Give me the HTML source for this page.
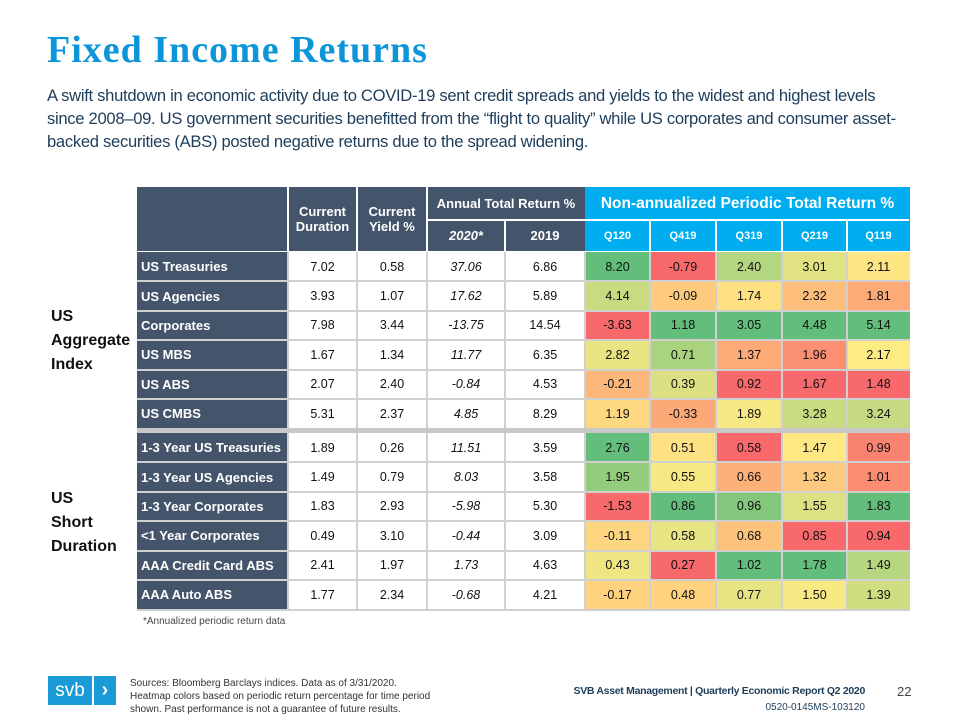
<!DOCTYPE html>
<html><head><meta charset="utf-8">
<style>
body{margin:0;width:960px;height:720px;background:#fff;position:relative;overflow:hidden;font-family:"Liberation Sans",sans-serif}
.a{position:absolute;box-sizing:border-box}
#title{left:47px;top:28px;font-family:"Liberation Serif",serif;font-weight:bold;font-size:38px;color:#0d95da;letter-spacing:1px}
#intro{left:47px;top:84px;font-size:16.6px;line-height:23px;color:#1d3d5a;letter-spacing:-0.3px;white-space:nowrap}
.c{display:flex;align-items:center;justify-content:center;text-align:center;font-size:12.5px;color:#111}
.h{background:#44546a;color:#fff;font-weight:bold;font-size:13px}
.lab{background:#44546a;color:#fff;font-weight:bold;font-size:13px;justify-content:flex-start;padding-left:4px}
.cy{background:#00aeef;color:#fff;font-weight:bold}
.grp{font-weight:bold;font-size:16px;color:#111;line-height:24px}
.ft{font-size:10px;color:#333;line-height:13px}
</style></head><body>
<div id="title" class="a">Fixed Income Returns</div>
<div id="intro" class="a">A swift shutdown in economic activity due to COVID-19 sent credit spreads and yields to the widest and highest levels<br>since 2008–09. US government securities benefitted from the “flight to quality” while US corporates and consumer asset-<br>backed securities (ABS) posted negative returns due to the spread widening.</div>
<div id="tbl" class="a" style="left:0;top:0;width:960px;height:720px"></div>
<div class="a grp" style="left:51px;top:305px">US<br>Aggregate<br>Index</div>
<div class="a grp" style="left:51px;top:487px">US<br>Short<br>Duration</div>
<div class="a" style="left:143px;top:616px;font-size:10px;color:#444">*Annualized periodic return data</div>
<div class="a" style="left:48px;top:676px;width:68px;height:29px;display:flex">
<div style="width:44px;height:29px;background:#1a9ad6;color:#fff;font-size:19px;display:flex;align-items:center;justify-content:center">svb</div>
<div style="width:2px"></div>
<div style="width:22px;height:29px;background:#1a9ad6;color:#fff;font-size:20px;font-weight:bold;display:flex;align-items:center;justify-content:center">›</div></div>
<div class="a ft" style="left:130px;top:677px">Sources: Bloomberg Barclays indices. Data as of 3/31/2020.<br>Heatmap colors based on periodic return percentage for time period<br>shown. Past performance is not a guarantee of future results.</div>
<div class="a" style="left:500px;top:685px;width:365px;text-align:right;font-size:10.5px;color:#1d3d5a;font-weight:bold;white-space:nowrap;letter-spacing:-0.3px">SVB Asset Management | Quarterly Economic Report Q2 2020</div>
<div class="a" style="left:560px;top:702px;width:305px;text-align:right;font-size:10px;color:#1d3d5a">0520-0145MS-103120</div>
<div class="a" style="left:897px;top:684px;font-size:13px;color:#444">22</div>
<script>
const rowLabels=["US Treasuries","US Agencies","Corporates","US MBS","US ABS","US CMBS","1-3 Year US Treasuries","1-3 Year US Agencies","1-3 Year Corporates","<1 Year Corporates","AAA Credit Card ABS","AAA Auto ABS"];
const duration=["7.02","3.93","7.98","1.67","2.07","5.31","1.89","1.49","1.83","0.49","2.41","1.77"];
const yieldPct=["0.58","1.07","3.44","1.34","2.40","2.37","0.26","0.79","2.93","3.10","1.97","2.34"];
const ret2020=["37.06","17.62","-13.75","11.77","-0.84","4.85","11.51","8.03","-5.98","-0.44","1.73","-0.68"];
const ret2019=["6.86","5.89","14.54","6.35","4.53","8.29","3.59","3.58","5.30","3.09","4.63","4.21"];
const quarters=["Q120","Q419","Q319","Q219","Q119"];
const q120=[8.20,4.14,-3.63,2.82,-0.21,1.19,2.76,1.95,-1.53,-0.11,0.43,-0.17];
const q419=[-0.79,-0.09,1.18,0.71,0.39,-0.33,0.51,0.55,0.86,0.58,0.27,0.48];
const q319=[2.40,1.74,3.05,1.37,0.92,1.89,0.58,0.66,0.96,0.68,1.02,0.77];
const q219=[3.01,2.32,4.48,1.96,1.67,3.28,1.47,1.32,1.55,0.85,1.78,1.50];
const q119=[2.11,1.81,5.14,2.17,1.48,3.24,0.99,1.01,1.83,0.94,1.49,1.39];
const qSeries=[q120,q419,q319,q219,q119];
const T=document.getElementById('tbl');
const colX=[137,288,357,427,505,585,650,716,782,847,910];
function rowY(i){return i<6?252+i*29.4:433+(i-6)*29.4;}
function cell(x,y,w,h,cls,txt,name){const d=document.createElement('div');d.className='a c '+cls;
d.style.cssText+=`left:${x}px;top:${y}px;width:${w}px;height:${h}px;`;d.textContent=txt;


T.appendChild(d);return d;}
function mix(a,b,t){return a.map((v,i)=>Math.round(v+(b[i]-v)*t));}
const R=[248,105,107],Y=[255,235,132],G=[99,190,123];
function median(a){const s=[...a].sort((x,y)=>x-y);const n=s.length;return n%2?s[(n-1)/2]:(s[n/2-1]+s[n/2])/2;}
function color(v,arr){const mn=Math.min(...arr),mx=Math.max(...arr),md=median(arr);let c;
if(v<=md)c=mix(R,Y,md===mn?1:(v-mn)/(md-mn));else c=mix(Y,G,(v-md)/(mx-md));return `rgb(${c})`;}
cell(137,187,151,64,'h','','header-blank');
cell(288,187,69,64,'h','Current\nDuration','current-duration-header').style.whiteSpace='pre';
cell(357,187,70,64,'h','Current\nYield %','current-yield-header').style.whiteSpace='pre';
cell(427,187,158,33,'h','Annual Total Return %','annual-return-header');
cell(427,220,78,31,'h','2020*','year-2020-header').style.fontStyle='italic';
cell(505,220,80,31,'h','2019','year-2019-header');
cell(585,187,325,33,'cy','Non-annualized Periodic Total Return %','periodic-return-header').style.fontSize='15.5px';
quarters.forEach((q,j)=>cell(colX[5+j],220,colX[6+j]-colX[5+j],31,'cy',q,'quarter-header-'+q.toLowerCase()).style.fontSize='11px');
[[288,187,2,64],[357,187,2,64],[427,187,2,64],[505,220,2,31],[427,219,158,2],[585,219,325,2]].forEach(([x,y,w,h])=>{const d=cell(x-1,y,w,h,'','','header-divider');d.style.background='#fff';});
[650,716,782,847].forEach(x=>{const d=cell(x-1,220,2,31,'','','header-divider');d.style.background='#fff';});
rowLabels.forEach((lab,i)=>{const y=rowY(i),h=29.4;
const key=lab.toLowerCase().replace(/[^a-z0-9]+/g,'-');
cell(137,y,151,h,'lab',lab,'row-label-'+key);
cell(288,y,69,h,'',duration[i],'duration-'+key);
cell(357,y,70,h,'',yieldPct[i],'yield-'+key);
cell(427,y,78,h,'',ret2020[i],'return-2020-'+key).style.fontStyle='italic';
cell(505,y,80,h,'',ret2019[i],'return-2019-'+key);
qSeries.forEach((s,j)=>{const grp=i<6?s.slice(0,6):s.slice(6);
const d=cell(colX[5+j],y,colX[6+j]-colX[5+j],h,'',s[i].toFixed(2),'heat-cell-'+key+'-'+quarters[j].toLowerCase());
d.style.background=color(s[i],grp);});
});
for(let i=0;i<12;i++){const y=rowY(i);if(i!==0&&i!==6){const d=cell(137,y-1,773,2,'','','row-divider');d.style.background='#d0d0d0';}}
colX.slice(1,10).forEach(x=>{[[252,176],[433,177]].forEach(([y,h])=>{const d=cell(x-1,y,2,h,'','','col-divider');d.style.background='#d0d0d0';});});
const sep=cell(137,428,773,5,'','','group-separator');sep.style.background='#c8c8c8';
const b1=cell(137,609,773,2,'','','table-bottom');b1.style.background='#d0d0d0';
</script>
</body></html>
